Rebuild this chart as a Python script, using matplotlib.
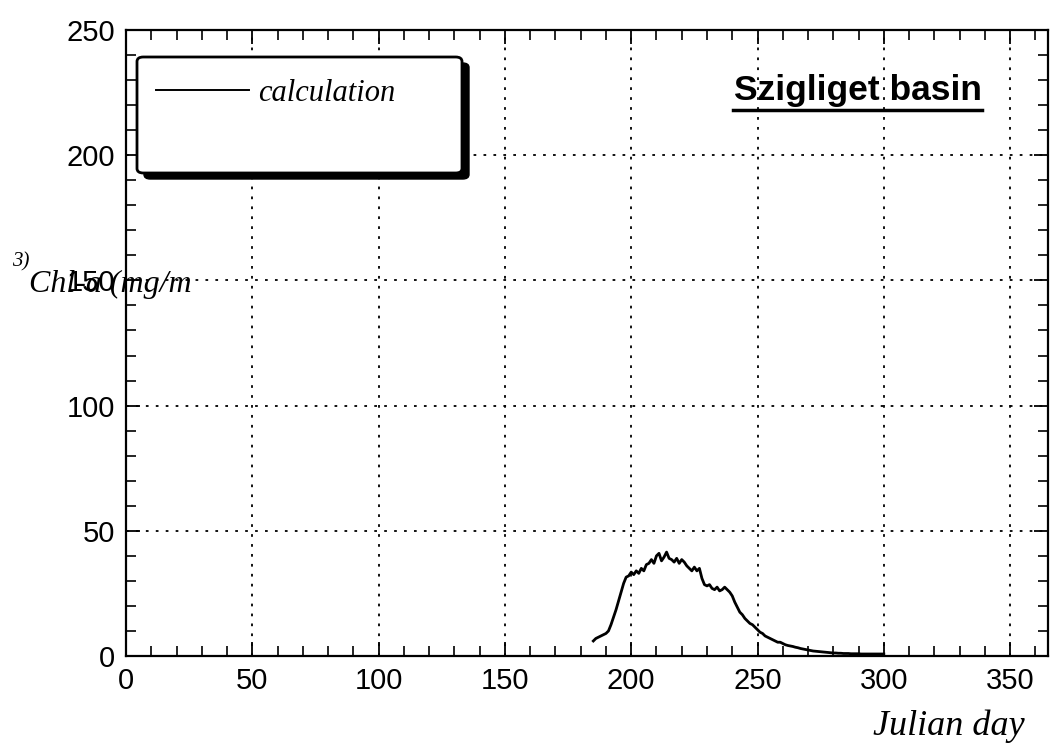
import matplotlib
matplotlib.use("Agg")
import matplotlib.pyplot as plt
from matplotlib.patches import FancyBboxPatch
from matplotlib.ticker import MultipleLocator

# ---- data ----
days = list(range(185, 301))
chla = [6.0, 7.0, 7.5, 8.0, 8.5, 9.0, 10.0, 12.5, 15.5, 18.5,
        22.0, 25.5, 29.0, 31.5, 32.0, 33.5, 32.5, 34.0, 33.0, 35.0,
        34.0, 36.5, 37.0, 38.5, 37.0, 40.0, 41.0, 38.0, 39.5, 41.5,
        39.0, 38.5, 37.5, 39.0, 37.0, 38.5, 37.5, 36.0, 35.0, 34.0,
        35.5, 34.0, 35.0, 31.0, 28.5, 28.0, 28.5, 27.0, 26.5, 27.5,
        26.0, 26.5, 27.5, 26.5, 25.5, 24.0, 21.5, 19.5, 17.5, 16.5,
        15.0, 14.0, 13.0, 12.5, 11.5, 10.5, 9.5, 9.0, 8.0, 7.5,
        7.0, 6.5, 6.0, 5.5, 5.5, 5.0, 4.5, 4.2, 4.0, 3.8,
        3.5, 3.3, 3.0, 2.8, 2.6, 2.4, 2.2, 2.0, 1.9, 1.8,
        1.7, 1.6, 1.5, 1.4, 1.3, 1.2, 1.2, 1.1, 1.1, 1.0,
        1.0, 1.0, 0.9, 0.9, 0.9, 0.9, 0.8, 0.8, 0.8, 0.8,
        0.8, 0.8, 0.8, 0.8, 0.8, 0.8]
series_label = "calculation"
title_text = "Szigliget basin"
x_ticks = [0, 50, 100, 150, 200, 250, 300, 350]
y_ticks = [0, 50, 100, 150, 200, 250]

W, H = 1054, 751
fig = plt.figure(figsize=(W / 100, H / 100), dpi=100)
ax = fig.add_axes([126 / W, 1 - 656 / H, (1048 - 126) / W, (656 - 30) / H])

ax.plot(days, chla, color="black", lw=2.0, label=series_label, zorder=3)

ax.set_xlim(0, 365)
ax.set_ylim(0, 250)
ax.set_xticks(x_ticks)
ax.set_yticks(y_ticks)
ax.xaxis.set_minor_locator(MultipleLocator(10))
ax.yaxis.set_minor_locator(MultipleLocator(10))
ax.tick_params(which="both", direction="in", top=True, right=True, color="black")
ax.tick_params(which="major", length=10, width=1.3, labelsize=21, pad=8)
ax.tick_params(which="minor", length=7, width=1.2)
for lab in ax.get_xticklabels() + ax.get_yticklabels():
    lab.set_fontfamily("Liberation Sans")
ax.grid(True, which="major", color="black", linestyle=(0, (1.5, 4)), lw=1.3)
for s in ax.spines.values():
    s.set_linewidth(1.6)
    s.set_color("black")

# legend box with shadow
tf = fig.transFigure
def fx(px):
    return px / W
def fy(py):
    return 1 - py / H
bx0, by0, bx1, by1 = 137, 57, 462, 173
shadow = FancyBboxPatch((fx(bx0 + 7), fy(by1 + 6)), fx(bx1 - bx0), (by1 - by0) / H,
                        boxstyle="round,pad=0,rounding_size=0.006", transform=tf,
                        facecolor="black", edgecolor="black", zorder=5, clip_on=False)
box = FancyBboxPatch((fx(bx0), fy(by1)), fx(bx1 - bx0), (by1 - by0) / H,
                     boxstyle="round,pad=0,rounding_size=0.006", transform=tf,
                     facecolor="white", edgecolor="black", lw=2, zorder=6, clip_on=False)
ax.add_patch(shadow)
ax.add_patch(box)
leg = ax.legend(loc="upper left", bbox_to_anchor=(fx(156), fy(79)), bbox_transform=tf,
                frameon=False, borderpad=0, borderaxespad=0, handlelength=3.05,
                handletextpad=0.3,
                prop={"family": "Liberation Serif", "style": "italic", "size": 22})
leg.set_zorder(10)
for l in leg.get_lines():
    l.set_linewidth(1.4)

# title
ax.text(fx(982), fy(100), title_text, transform=tf, ha="right", va="baseline",
        fontsize=25.5, fontweight="bold", family="Liberation Sans")
fig.add_artist(plt.Line2D([fx(733), fx(982)], [fy(110), fy(110)], color="black", lw=2.5))

# axis labels (as in scan)
fig.text(fx(873), fy(735), "Julian day", family="Liberation Serif", style="italic",
         fontsize=26, ha="left", va="baseline")
fig.text(fx(29), fy(292), "Chl-a (mg/m", family="Liberation Serif", style="italic",
         fontsize=23, ha="left", va="baseline")
fig.text(fx(12), fy(266), "3)", family="Liberation Serif", style="italic",
         fontsize=15, ha="left", va="baseline")

fig.savefig("out.png", dpi=100)
